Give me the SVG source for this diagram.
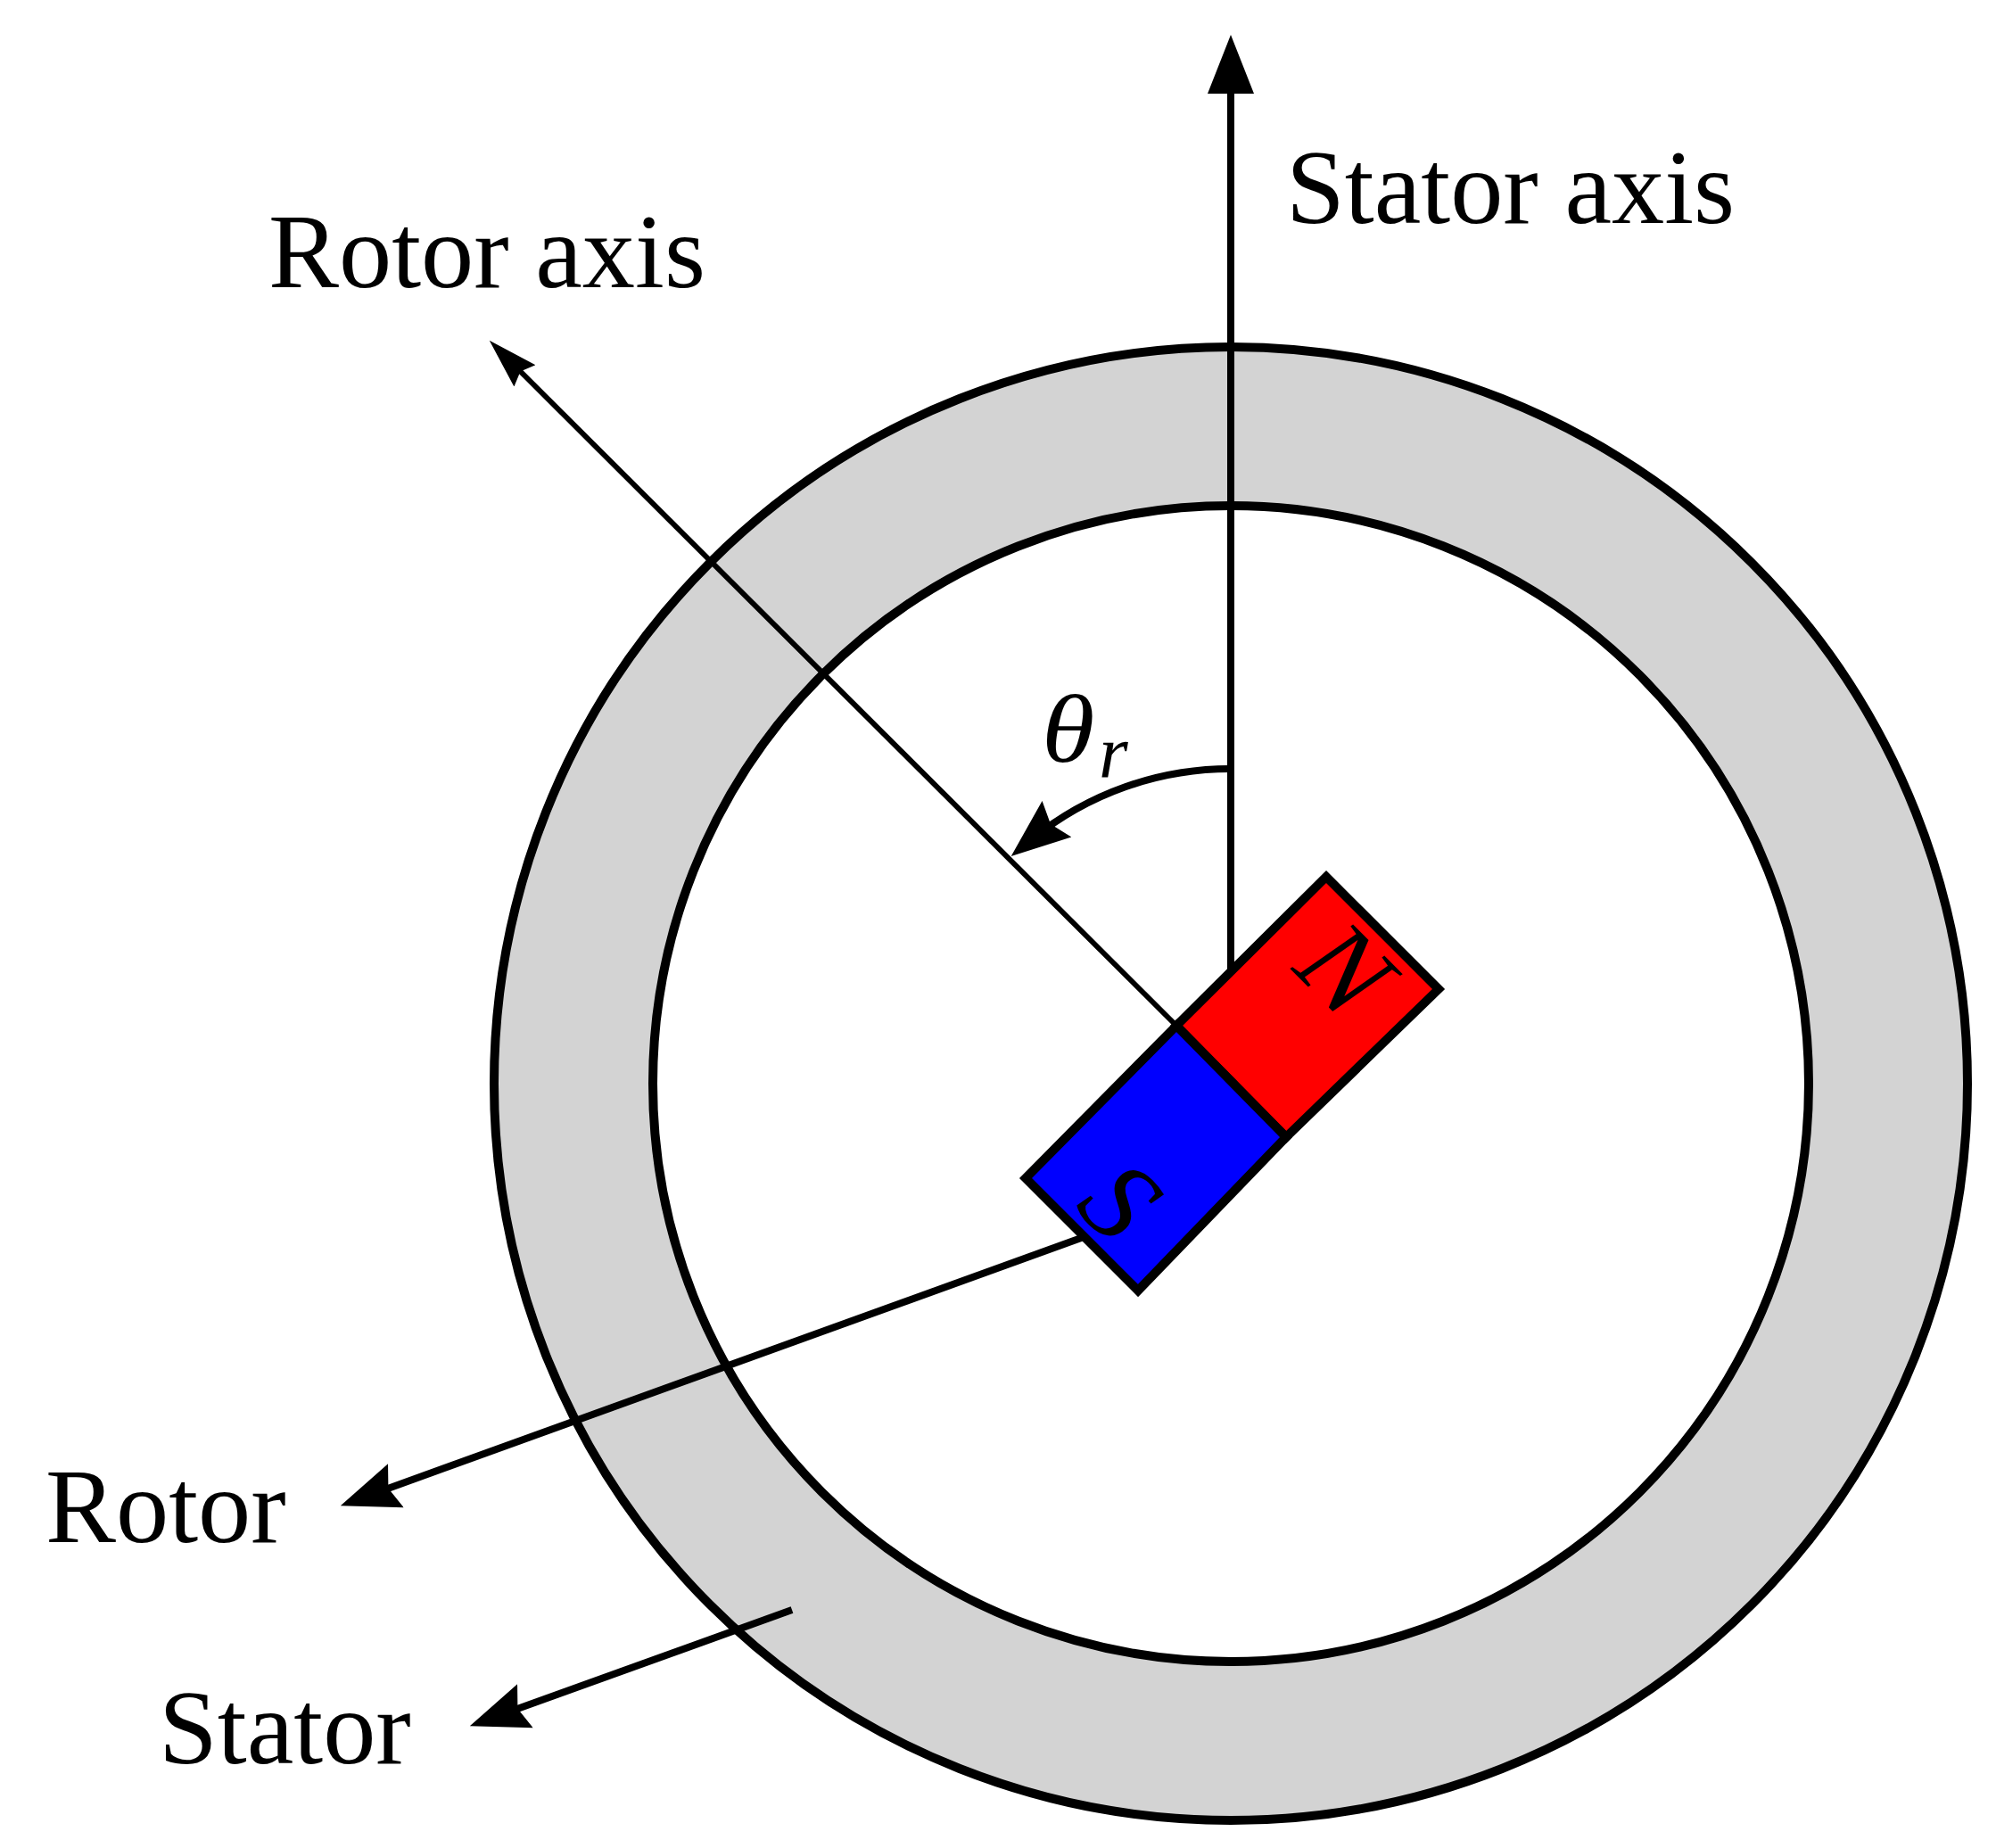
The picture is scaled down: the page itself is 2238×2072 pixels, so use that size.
<svg xmlns="http://www.w3.org/2000/svg" width="2238" height="2072" viewBox="0 0 2238 2072">
<style>
text{font-family:"Liberation Serif","Times New Roman",serif;fill:#000}
.l{font-size:118.4px}
.i{font-style:italic}
.c{fill:none;stroke:#000;stroke-linecap:butt}
.o{stroke:#000;stroke-width:10;stroke-linejoin:miter}
</style>
<defs>
<marker id="a" markerUnits="userSpaceOnUse" markerWidth="70" markerHeight="56" refX="36" refY="28" orient="auto"><path d="M66 28L0 2L0 54Z" fill="#000"/></marker>
<marker id="b" markerUnits="userSpaceOnUse" markerWidth="70" markerHeight="56" refX="36" refY="28" orient="auto"><path d="M66 28L0 2L9 28L0 54Z" fill="#000"/></marker>
<marker id="d" markerUnits="userSpaceOnUse" markerWidth="60" markerHeight="44" refX="26" refY="22" orient="auto"><path d="M56 22L0 5L7 22L0 39Z" fill="#000"/></marker>
</defs>
<rect width="2238" height="2072" fill="#fff"/>
<g id="stator-ring">
<circle cx="1380" cy="1215" r="737" fill="none" stroke="#d3d3d3" stroke-width="178"/>
<circle cx="1380" cy="1215" r="826" fill="none" class="o"/>
<circle cx="1380" cy="1215" r="648" fill="none" class="o"/>
</g>
<g id="connectors">
<path class="c" stroke-width="8" d="M1380 1095V69" marker-end="url(#a)"/>
<path class="c" stroke-width="6" d="M1319 1150L570 403" marker-end="url(#d)"/>
<path class="c" stroke-width="8" d="M1380 862A353 353 0 0 0 1157 941" marker-end="url(#b)"/>
<path class="c" stroke-width="8" d="M1215 1387L410 1678" marker-end="url(#b)"/>
<path class="c" stroke-width="8" d="M888 1805L555 1925" marker-end="url(#b)"/>
</g>
<g id="magnet">
<polygon class="o" fill="#f00" points="1319,1150 1487,983 1613,1109 1442,1275"/>
<polygon class="o" fill="#00f" points="1319,1150 1442,1275 1276,1447 1150,1321"/>
<text class="i" font-size="130" text-anchor="middle" transform="translate(1508,1087) rotate(45) translate(0,43)">N</text>
<text class="i" font-size="128" text-anchor="middle" transform="translate(1256,1346) rotate(45) translate(0,43)">S</text>
</g>
<g id="labels">
<text class="l" x="301" y="322">Rotor axis</text>
<text class="l" x="1442" y="250">Stator axis</text>
<text class="l" x="51" y="1729">Rotor</text>
<text class="l" x="178" y="1977">Stator</text>
<text class="i" font-size="108" transform="translate(1168,854) scale(1.12,1)">θ</text>
<text class="i" font-size="84" x="1232" y="872">r</text>
</g>
</svg>
